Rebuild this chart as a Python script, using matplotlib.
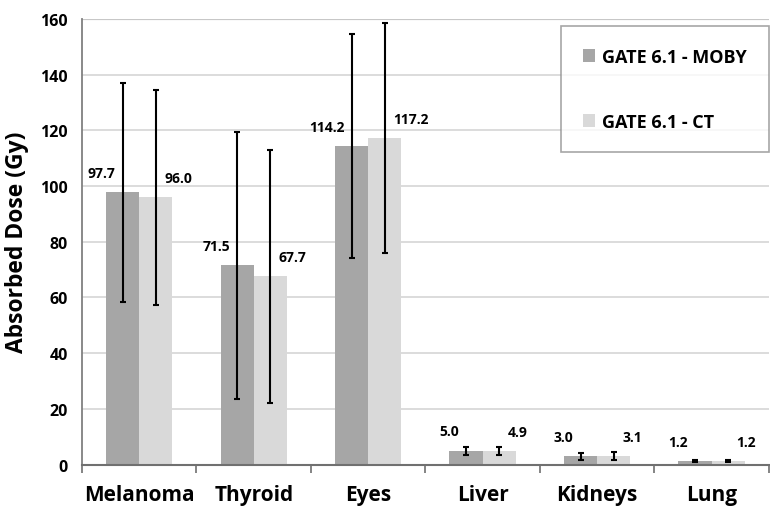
import matplotlib.pyplot as plt
import numpy as np

organs = ["Melanoma", "Thyroid", "Eyes", "Liver", "Kidneys", "Lung"]
moby = [97.7, 71.5, 114.2, 5.0, 3.0, 1.2]
ct = [96.0, 67.7, 117.2, 4.9, 3.1, 1.2]
moby_err = [39.3, 48.0, 40.2, 1.4, 1.3, 0.3]
ct_err = [38.6, 45.4, 41.3, 1.4, 1.4, 0.3]
yticks = [0, 20, 40, 60, 80, 100, 120, 140, 160]

plt.rcParams["font.family"] = ["Open Sans", "DejaVu Sans"]
plt.rcParams["font.weight"] = "bold"

fig = plt.figure(figsize=(7.7, 5.1), dpi=100)
ax = fig.add_axes([0.1065, 0.087, 0.892, 0.874])

x = np.arange(len(organs))
w = 0.29
dark = "#a6a6a6"
light = "#d9d9d9"

ax.bar(x - w / 2, moby, w, color=dark, label="GATE 6.1 - MOBY", zorder=2)
ax.bar(x + w / 2, ct, w, color=light, label="GATE 6.1 - CT", zorder=2)
ax.errorbar(x - w / 2, moby, yerr=moby_err, fmt="none", ecolor="black",
            elinewidth=1.5, capsize=2.5, capthick=1.5, zorder=3)
ax.errorbar(x + w / 2, ct, yerr=ct_err, fmt="none", ecolor="black",
            elinewidth=1.5, capsize=2.5, capthick=1.5, zorder=3)

# data labels: MOBY to the upper left of its bar, CT to the upper right
for xi, v in zip(x, moby):
    ax.annotate(f"{v:.1f}", (xi - w / 2, v), xytext=(-5, 14),
                textcoords="offset points", ha="right", va="center",
                fontsize=10, fontweight="bold")
for xi, v in zip(x, ct):
    ax.annotate(f"{v:.1f}", (xi + w / 2, v), xytext=(6, 14),
                textcoords="offset points", ha="left", va="center",
                fontsize=10, fontweight="bold")

ax.set_xlim(-0.5, len(organs) - 0.5)
ax.set_ylim(0, 160)
ax.set_yticks(yticks)
ax.set_yticklabels([str(t) for t in yticks], fontsize=11.5, fontweight="bold")
ax.yaxis.grid(True, color="#d6d6d6", linewidth=1.2, zorder=0)
ax.axhline(160, color="#808080", linewidth=1.5, zorder=1)
ax.tick_params(axis="y", length=0, pad=10)

ax.set_xticks(x)
ax.set_xticklabels(organs, fontsize=15, fontweight="bold")
ax.set_xticks(np.arange(len(organs) + 1) - 0.5, minor=True)
ax.tick_params(axis="x", which="major", length=0, pad=14)
ax.tick_params(axis="x", which="minor", length=6, width=1.2, color="#707070", direction="out")

for s in ["top", "right"]:
    ax.spines[s].set_visible(False)
ax.spines["left"].set_color("#808080")
ax.spines["left"].set_linewidth(1.3)
ax.spines["bottom"].set_color("#707070")
ax.spines["bottom"].set_linewidth(1.5)

ax.set_ylabel("Absorbed Dose (Gy)", fontsize=16.5, fontweight="bold", labelpad=8)

leg = ax.legend(loc="upper right", bbox_to_anchor=(1.0, 0.984), frameon=True,
                fancybox=False, edgecolor="#909090", fontsize=13,
                handlelength=0.7, handleheight=0.7, handletextpad=0.4,
                labelspacing=2.6, borderpad=1.2, borderaxespad=0)
leg.get_frame().set_linewidth(1.2)
for t in leg.get_texts():
    t.set_fontweight("bold")

fig.savefig("out.png", dpi=100)
